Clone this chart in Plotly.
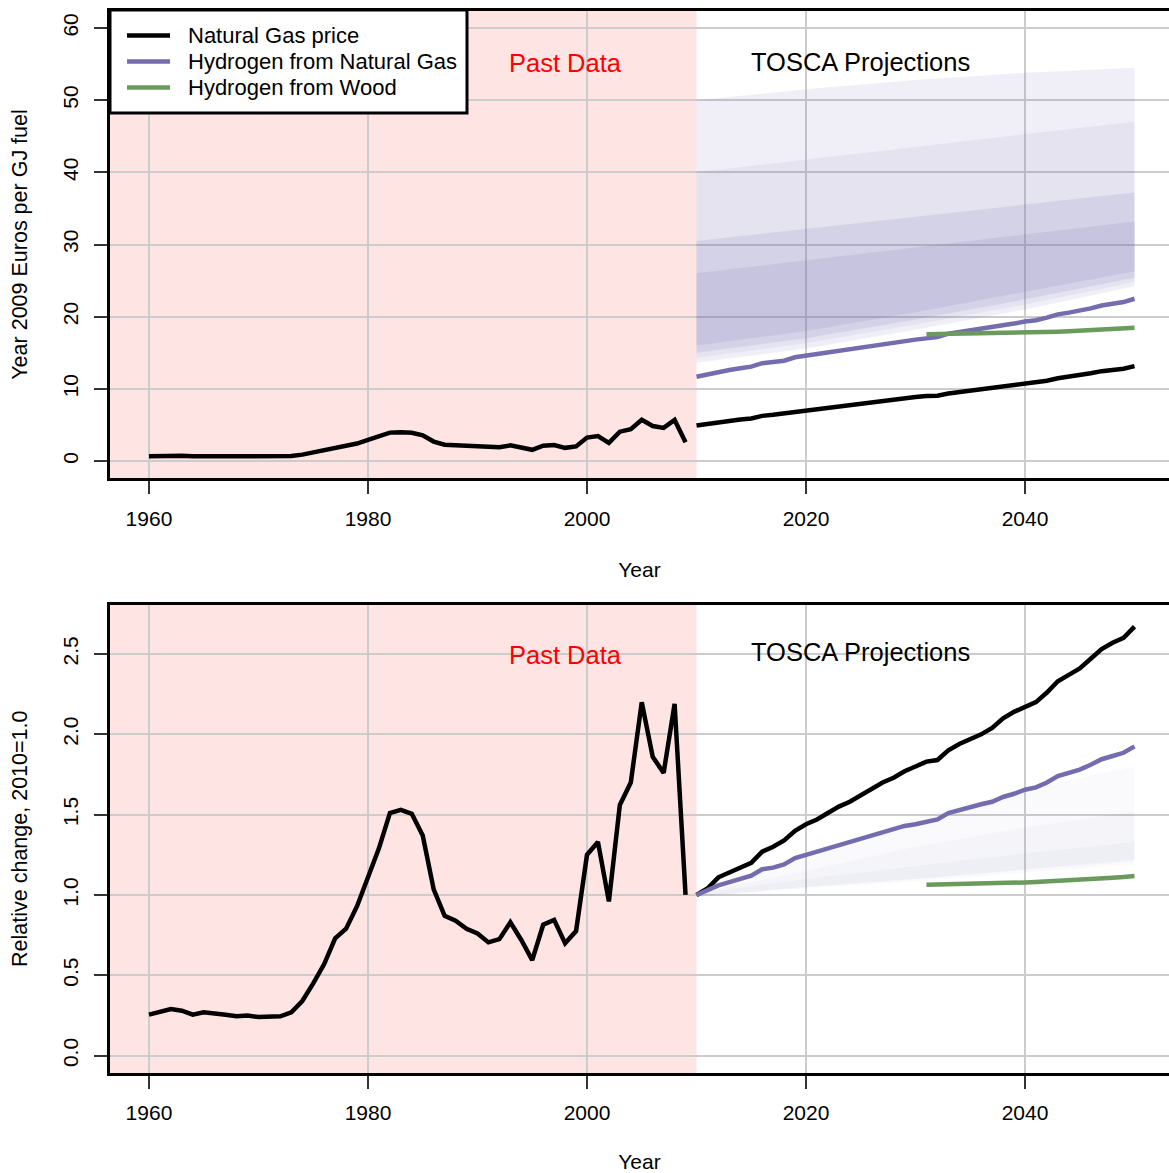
import plotly.graph_objects as go

# ---------------- data ----------------
HIST_YEARS = list(range(1960, 2010))
PROJ_YEARS = list(range(2010, 2051))
WOOD_YEARS = list(range(2031, 2051))

# top panel: Year 2009 Euros per GJ fuel
gas_price_hist = [0.66, 0.70, 0.75, 0.73, 0.66, 0.70, 0.69, 0.66, 0.64, 0.65,
                  0.62, 0.63, 0.64, 0.70, 0.88, 1.17, 1.48, 1.90, 2.05, 2.42,
                  2.91, 3.35, 3.93, 3.98, 3.91, 3.56, 2.69, 2.26, 2.18, 2.05,
                  1.98, 1.83, 1.89, 2.16, 1.87, 1.55, 2.12, 2.20, 1.82, 2.02,
                  3.25, 3.46, 2.50, 4.06, 4.42, 5.72, 4.84, 4.58, 5.69, 2.60]
gas_price_proj = [4.92, 5.12, 5.46, 5.61, 5.76, 5.90, 6.25, 6.40, 6.59, 6.89,
                  7.08, 7.23, 7.43, 7.63, 7.77, 7.97, 8.17, 8.36, 8.51, 8.71,
                  8.86, 9.00, 9.05, 9.35, 9.54, 9.69, 9.84, 10.04, 10.33, 10.53,
                  10.68, 10.82, 11.12, 11.46, 11.66, 11.86, 12.15, 12.45, 12.64, 12.79,
                  13.14]
h2_gas_proj = [11.68, 12.03, 12.38, 12.61, 12.85, 13.08, 13.55, 13.67, 13.90, 14.37,
               14.60, 14.83, 15.07, 15.30, 15.53, 15.77, 16.00, 16.24, 16.47, 16.70,
               16.82, 16.99, 17.17, 17.64, 17.87, 18.10, 18.28, 18.45, 18.80, 19.04,
               19.33, 19.51, 19.86, 20.32, 20.56, 20.79, 21.14, 21.55, 21.78, 22.02,
               22.48]
h2_wood_proj = [17.55, 17.57, 17.60, 17.62, 17.65, 17.67, 17.70, 17.72, 17.75, 17.78,
                17.82, 17.87, 17.92, 17.97, 18.05, 18.12, 18.20, 18.28, 18.36, 18.45]

# bottom panel: relative change
gas_rel_hist = [0.255, 0.27, 0.29, 0.28, 0.255, 0.27, 0.265, 0.255, 0.245, 0.25,
                0.24, 0.242, 0.245, 0.27, 0.34, 0.45, 0.57, 0.73, 0.79, 0.93,
                1.12, 1.29, 1.51, 1.53, 1.505, 1.37, 1.035, 0.87, 0.84, 0.79,
                0.76, 0.705, 0.725, 0.83, 0.72, 0.595, 0.815, 0.845, 0.70, 0.775,
                1.25, 1.33, 0.96, 1.56, 1.70, 2.20, 1.86, 1.76, 2.19, 1.00]
gas_rel_proj = [1.00, 1.04, 1.11, 1.14, 1.17, 1.20, 1.27, 1.30, 1.34, 1.40,
                1.44, 1.47, 1.51, 1.55, 1.58, 1.62, 1.66, 1.70, 1.73, 1.77,
                1.80, 1.83, 1.84, 1.90, 1.94, 1.97, 2.00, 2.04, 2.10, 2.14,
                2.17, 2.20, 2.26, 2.33, 2.37, 2.41, 2.47, 2.53, 2.57, 2.60,
                2.67]
h2_gas_rel = [1.00, 1.03, 1.06, 1.08, 1.10, 1.12, 1.16, 1.17, 1.19, 1.23,
              1.25, 1.27, 1.29, 1.31, 1.33, 1.35, 1.37, 1.39, 1.41, 1.43,
              1.44, 1.455, 1.47, 1.51, 1.53, 1.55, 1.565, 1.58, 1.61, 1.63,
              1.655, 1.67, 1.70, 1.74, 1.76, 1.78, 1.81, 1.845, 1.865, 1.885,
              1.925]
h2_wood_rel = [1.063, 1.064, 1.066, 1.067, 1.069, 1.070, 1.072, 1.074, 1.076, 1.078,
               1.081, 1.084, 1.087, 1.090, 1.094, 1.098, 1.102, 1.107, 1.112, 1.118]

# projection fan (envelopes of the TOSCA runs), read at these years
FAN_YEARS = [2010, 2020, 2030, 2040, 2050]
fan_abs_lower = [[13.6, 15.6, 18.2, 21.0, 24.2],
                 [14.3, 16.3, 18.9, 21.7, 24.8],
                 [15.0, 17.0, 19.6, 22.4, 25.4],
                 [16.0, 18.0, 20.6, 23.4, 26.3]]
fan_abs_upper = [[50.0, 51.5, 52.8, 53.8, 54.5],
                 [40.0, 41.8, 43.5, 45.3, 47.0],
                 [30.5, 32.2, 33.8, 35.5, 37.2],
                 [26.0, 27.8, 29.6, 31.4, 33.2]]
fan_abs_alpha = [0.11, 0.09, 0.15, 0.14]

fan_rel_lower = [[0.985, 1.04, 1.085, 1.14, 1.19],
                 [0.99, 1.05, 1.10, 1.155, 1.21],
                 [0.99, 1.05, 1.10, 1.16, 1.22]]
fan_rel_upper = [[1.015, 1.25, 1.48, 1.66, 1.80],
                 [1.01, 1.15, 1.30, 1.42, 1.52],
                 [1.01, 1.10, 1.18, 1.26, 1.33]]
fan_rel_alpha = [0.035, 0.035, 0.05]

X_TICKS = [1960, 1980, 2000, 2020, 2040]
Y_TICKS_ABS = [0, 10, 20, 30, 40, 50, 60]
Y_TICKS_REL = [0.0, 0.5, 1.0, 1.5, 2.0, 2.5]
X_RANGE = [1956.44, 2053.15]
Y_RANGE_ABS = [-2.4, 62.4]
Y_RANGE_REL = [-0.108, 2.808]
PAST_END = 2010

LEGEND_NAMES = ["Natural Gas price", "Hydrogen from Natural Gas", "Hydrogen from Wood"]

# ---------------- styles ----------------
FONT = "Liberation Sans, Arial, Helvetica, sans-serif"
BLACK = "#000000"
PURPLE = "#736db0"
GREEN = "#6a9a5c"
FAN_RGB = "117,112,179"
PINK = "#ffe4e4"
GRID = "#cccccc"
LW = 4.5

fig = go.Figure()


def add_fan(lowers, uppers, alphas, xa, ya):
    for lo, up, a in zip(lowers, uppers, alphas):
        fig.add_trace(go.Scatter(
            x=FAN_YEARS + FAN_YEARS[::-1], y=up + lo[::-1],
            fill="toself", fillcolor=f"rgba({FAN_RGB},{a})",
            line=dict(width=0), mode="lines", hoverinfo="skip",
            showlegend=False, xaxis=xa, yaxis=ya))


def add_line(x, y, color, xa, ya):
    fig.add_trace(go.Scatter(
        x=x, y=y, mode="lines", line=dict(color=color, width=LW),
        showlegend=False, xaxis=xa, yaxis=ya))


# top panel
add_fan(fan_abs_lower, fan_abs_upper, fan_abs_alpha, "x", "y")
add_line(HIST_YEARS, gas_price_hist, BLACK, "x", "y")
add_line(PROJ_YEARS, gas_price_proj, BLACK, "x", "y")
add_line(PROJ_YEARS, h2_gas_proj, PURPLE, "x", "y")
add_line(WOOD_YEARS, h2_wood_proj, GREEN, "x", "y")

# bottom panel
add_fan(fan_rel_lower, fan_rel_upper, fan_rel_alpha, "x2", "y2")
add_line(HIST_YEARS, gas_rel_hist, BLACK, "x2", "y2")
add_line(PROJ_YEARS, gas_rel_proj, BLACK, "x2", "y2")
add_line(PROJ_YEARS, h2_gas_rel, PURPLE, "x2", "y2")
add_line(WOOD_YEARS, h2_wood_rel, GREEN, "x2", "y2")

shapes = []
for xr, yr in (("x", "y domain"), ("x2", "y2 domain")):
    shapes.append(dict(type="rect", xref=xr, yref=yr, x0=X_RANGE[0], x1=PAST_END,
                       y0=0, y1=1, fillcolor=PINK, line=dict(width=0), layer="below"))

# the page body margin is removed in post_script, so figure = window
W, H = 1169, 1173
ML, MT, MB = 110, 10, 100
PW, PH = W - ML, H - MT - MB


def px(xs):  # screen x -> paper
    return (xs - ML) / PW


def py(ys):  # screen y -> paper
    return (H - MB - ys) / PH


shapes.append(dict(type="rect", xref="paper", yref="paper", x0=px(110), x1=px(467),
                   y0=py(113), y1=py(10), fillcolor="white",
                   line=dict(color="black", width=3), layer="above"))
annotations = []
for i, (name, col) in enumerate(zip(LEGEND_NAMES, [BLACK, PURPLE, GREEN])):
    yy = py(35.5 + 26 * i)
    shapes.append(dict(type="line", xref="paper", yref="paper", x0=px(127), x1=px(170),
                       y0=yy, y1=yy, line=dict(color=col, width=LW), layer="above"))
    annotations.append(dict(xref="paper", yref="paper", x=px(186), y=yy, text=name,
                            showarrow=False, xanchor="left", yanchor="middle",
                            font=dict(family=FONT, size=22, color="black")))

for xr, yr, yp, yt in (("x", "y", 55.1, 55.3), ("x2", "y2", 2.494, 2.514)):
    annotations.append(dict(xref=xr, yref=yr, x=1998, y=yp, text="Past Data",
                            showarrow=False, font=dict(family=FONT, size=25.5, color="red")))
    annotations.append(dict(xref=xr, yref=yr, x=2025, y=yt, text="TOSCA Projections",
                            showarrow=False, font=dict(family=FONT, size=25.5, color="black")))

axis_common = dict(showgrid=True, gridcolor=GRID, gridwidth=1.5, zeroline=False,
                   showline=True, linecolor="black", linewidth=3,
                   ticks="outside", ticklen=13, tickwidth=1.5, tickcolor="#333333",
                   tickfont=dict(family=FONT, size=21, color="black"))

xa = dict(axis_common, range=X_RANGE, tickvals=X_TICKS, mirror=True, ticklabelstandoff=6,
          title=dict(text="Year", font=dict(family=FONT, size=21, color="black"), standoff=34))

ytitle_font = dict(family=FONT, size=21.5, color="black")
fig.update_layout(
    width=W, height=H, margin=dict(l=ML, r=0, t=MT, b=MB, autoexpand=False),
    paper_bgcolor="white", plot_bgcolor="white", showlegend=False,
    font=dict(family=FONT, color="black"),
    xaxis=dict(xa, domain=[0, 1], anchor="y"),
    xaxis2=dict(xa, domain=[0, 1], anchor="y2"),
    yaxis=dict(axis_common, domain=[py(478.3), py(10.7)], range=Y_RANGE_ABS,
               tickvals=Y_TICKS_ABS, tickangle=-90, anchor="x", ticklabelstandoff=8,
               title=dict(text="Year 2009 Euros per GJ fuel", font=ytitle_font, standoff=26)),
    yaxis2=dict(axis_common, domain=[max(py(1073.4), 0), py(604.5)], range=Y_RANGE_REL,
                tickvals=Y_TICKS_REL, tickformat=".1f", tickangle=-90, anchor="x2",
                ticklabelstandoff=8,
                title=dict(text="Relative change, 2010=1.0", font=ytitle_font, standoff=26)),
    shapes=shapes, annotations=annotations,
)

fig.write_html("out.html",
               config={"displayModeBar": False},
               post_script="document.body.style.margin='0';"
                           "document.body.style.overflow='hidden';")
